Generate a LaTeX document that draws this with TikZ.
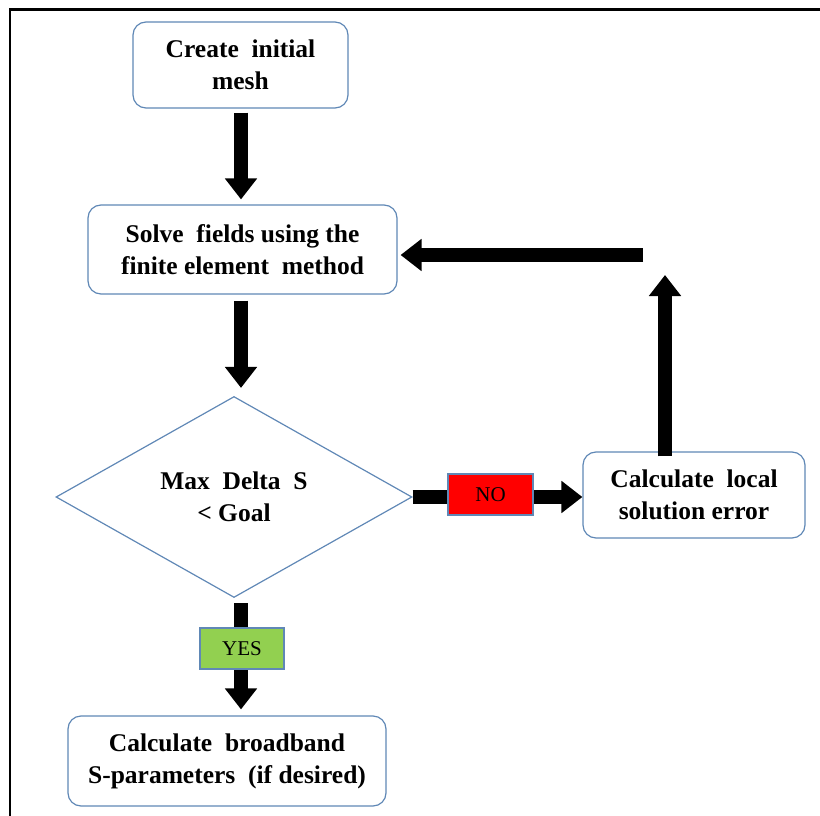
\documentclass[tikz,border=0pt]{standalone}
\usepackage{fontspec}
\setmainfont{Liberation Serif}
\usetikzlibrary{arrows.meta,shapes.geometric}
\definecolor{edgeblue}{RGB}{96,136,182}
\definecolor{nored}{RGB}{255,0,0}
\definecolor{yesgreen}{RGB}{146,208,80}
\tikzset{
  procbox/.style={draw=edgeblue, line width=1.2pt, rounded corners=13pt, fill=white,
    align=center, inner sep=0pt, font=\fontsize{25.5}{32}\selectfont\bfseries},
  decision/.style={draw=edgeblue, line width=1.2pt, diamond, inner sep=0pt,
    align=center, font=\fontsize{25.5}{32}\selectfont\bfseries},
  tagbox/.style={draw=edgeblue, line width=1.2pt, inner sep=0pt,
    minimum width=85pt, minimum height=41pt, font=\fontsize{21}{24}\selectfont},
  bigarrow/.style={line width=14pt, line cap=butt, black,
    -{Triangle[width=31pt,length=21pt]}},
  thickline/.style={line width=14pt, line cap=butt, black}
}
\begin{document}
\begin{tikzpicture}[x=1pt,y=-1pt]
\useasboundingbox (0,0) rectangle (820,816);
% frame
\draw[line width=2.2pt, black] (10,816) -- (10,9.5) -- (820,9.5);

\coordinate (col) at (241,0);

\node[procbox, minimum width=215pt, minimum height=86pt] (mesh) at (240.5,65)
  {Create\ \ initial\\mesh};
\node[procbox, minimum width=309pt, minimum height=89pt] (solve) at (242.5,249.5)
  {Solve\ \ fields using the\\finite element\ \ method};
\node[decision, minimum width=356pt, minimum height=201pt] (dec) at (234,497)
  {Max\ \ Delta\ \ S\\\normalfont\bfseries{}\textless\ Goal};
\node[procbox, minimum width=222pt, minimum height=86pt] (local) at (694,495)
  {Calculate\ \ local\\solution error};
\node[procbox, minimum width=318pt, minimum height=90pt] (broad) at (227,761)
  {Calculate\ \ broadband\\S-parameters\ \ (if desired)};

\coordinate (upend) at (665,275);
\coordinate (leftstart) at (643,255);

% arrows
\draw[bigarrow] ([yshift=-4pt]mesh.south -| col) -- ([yshift=5pt]solve.north -| col);
\draw[bigarrow] ([yshift=-6pt]solve.south -| col) -- ([yshift=8pt]dec.north -| col);
\draw[bigarrow] ([yshift=-5pt]dec.south -| col) -- ([yshift=6pt]broad.north -| col);
\draw[bigarrow] (dec.east) -- (local.west |- dec.east);
\draw[bigarrow] ([yshift=-5pt]local.north -| upend) -- (upend);
\draw[bigarrow] (leftstart) -- ([xshift=3pt]solve.east |- leftstart);

% labels on arrows
\node[tagbox, fill=nored] (no) at (490.5,494.5) {NO};
\node[tagbox, fill=yesgreen, minimum width=84pt] (yes) at (242,648.5) {YES};
\end{tikzpicture}
\end{document}
